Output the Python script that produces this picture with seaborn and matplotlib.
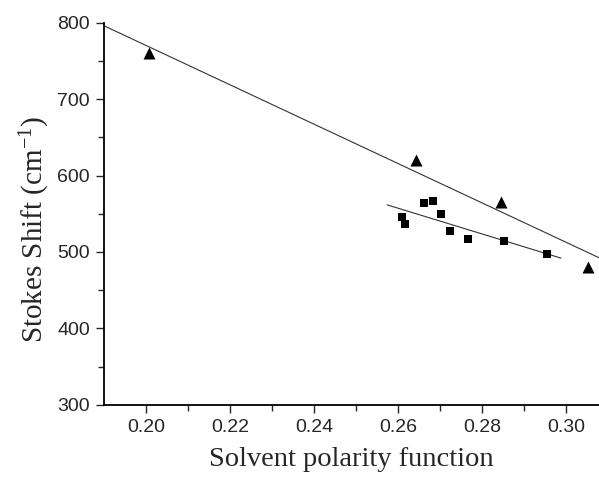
import numpy as np
import pandas as pd
import seaborn as sns
import matplotlib.pyplot as plt

# ----- Data -----
tri_x = [0.2007, 0.2643, 0.2846, 0.3052]
tri_y = [760, 620, 565, 480]
sq_x = [0.2609, 0.2618, 0.2662, 0.2683, 0.2703, 0.2724, 0.2768, 0.2852, 0.2954]
sq_y = [546, 537, 564, 567, 549, 527, 516.5, 514.7, 497]

# ----- Style -----
sns.set_style("ticks")
plt.rcParams.update({'font.family': ['Liberation Sans', 'DejaVu Sans'],
                     'font.size': 14,
                     'mathtext.fontset': 'custom',
                     'mathtext.rm': 'Liberation Serif',
                     'mathtext.it': 'Liberation Serif:italic'})

fig = plt.figure(figsize=(5.99, 4.79), dpi=100)
ax = fig.add_axes([0.1736, 0.155, 0.8264, 0.7976])
ax.set_xlim(0.19, 0.3079)
ax.set_ylim(300, 800)

tri = pd.DataFrame({'x': tri_x, 'y': tri_y})
sq = pd.DataFrame({'x': sq_x, 'y': sq_y})


def fit_line(df):
    # linear fit, drawn over the data range extended by 10% on each side
    k, b = np.polyfit(df['x'], df['y'], 1)
    span = df['x'].max() - df['x'].min()
    xs = np.array([df['x'].min() - 0.1 * span, df['x'].max() + 0.1 * span])
    return xs, k * xs + b


for df in (tri, sq):
    xs, ys = fit_line(df)
    ax.plot(xs, ys, color='#333333', lw=0.8, zorder=1)

sns.scatterplot(data=tri, x='x', y='y', marker='^', s=75, color='black',
                edgecolor='black', linewidth=0, ax=ax, zorder=3)
sns.scatterplot(data=sq, x='x', y='y', marker='s', s=34, color='black',
                edgecolor='black', linewidth=0, ax=ax, zorder=3)

# ----- Axes -----
ax.set_xticks(np.arange(0.20, 0.301, 0.02))
ax.set_xticks(np.arange(0.21, 0.301, 0.02), minor=True)
ax.set_xticklabels([f'{v:.2f}' for v in np.arange(0.20, 0.301, 0.02)])
ax.set_yticks(np.arange(300, 801, 100))
ax.set_yticks(np.arange(350, 800, 100), minor=True)
ax.tick_params(which='major', direction='out', length=6, width=1, pad=4)
ax.tick_params(which='minor', direction='out', length=4, width=1)
for s in ('top', 'right'):
    ax.spines[s].set_visible(False)
for s in ('left', 'bottom'):
    ax.spines[s].set_linewidth(1.3)
    ax.spines[s].set_color('black')

ax.set_xlabel('Solvent polarity function', family='Liberation Serif', fontsize=20.5, labelpad=8)
ax.set_ylabel(r'Stokes Shift (cm$^{\mathregular{-1}}$)', family='Liberation Serif', fontsize=21)
ax.yaxis.set_label_coords(-0.105, 0.46)

fig.savefig('out.png', dpi=100)
